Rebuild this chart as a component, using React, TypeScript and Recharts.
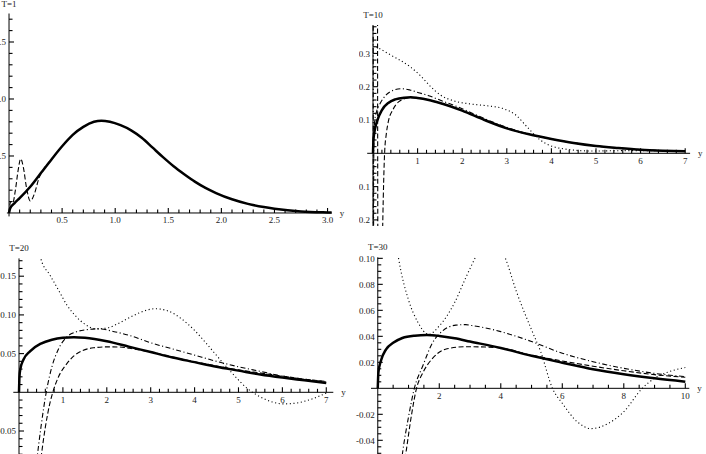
import { LineChart, Line, XAxis, YAxis, ReferenceLine, ReferenceDot } from "recharts"

// ---- T=1 ----
const t1SolidX = [0, 0.01, 0.05, 0.1, 0.2, 0.3, 0.4, 0.5, 0.6, 0.7, 0.8, 0.87, 0.95, 1.05, 1.15, 1.25, 1.35, 1.45, 1.55, 1.65, 1.75, 1.85, 1.95, 2.1, 2.25, 2.4, 2.5, 2.75, 3.0, 3.04]
const t1Solid = [0, 0.04, 0.085, 0.13, 0.23, 0.35, 0.47, 0.585, 0.685, 0.755, 0.8, 0.81, 0.8, 0.77, 0.725, 0.66, 0.575, 0.49, 0.41, 0.34, 0.275, 0.22, 0.175, 0.12, 0.08, 0.052, 0.038, 0.014, 0.005, 0.004]
const t1DashedX = [0, 0.015, 0.035, 0.06, 0.085, 0.11, 0.135, 0.165, 0.2, 0.24, 0.28, 0.32, 0.4]
const t1Dashed = [0, 0.1, 0.09, 0.2, 0.37, 0.475, 0.4, 0.22, 0.105, 0.17, 0.3, 0.375, 0.47]

// ---- T=10 ----
const t10SolidX = [0, 0.01, 0.04, 0.1, 0.2, 0.35, 0.5, 0.7, 0.85, 1.0, 1.25, 1.5, 2.0, 2.5, 3.0, 3.5, 4.0, 4.5, 5.0, 5.5, 6.0, 6.5, 7.0]
const t10Solid = [0, 0.04, 0.07, 0.1, 0.13, 0.152, 0.162, 0.167, 0.168, 0.166, 0.16, 0.151, 0.128, 0.1, 0.075, 0.057, 0.043, 0.031, 0.022, 0.016, 0.011, 0.008, 0.006]
const t10DashDotX = [0.004, 0.01, 0.02, 0.04, 0.08, 0.15, 0.3, 0.45, 0.64, 0.83, 1.05, 1.25, 1.5, 2.0, 2.5, 3.0, 3.5, 4.0, 5.0, 6.0, 7.0]
const t10DashDot = [0.45, -0.3, 0.05, 0.1, 0.125, 0.147, 0.176, 0.189, 0.194, 0.19, 0.181, 0.173, 0.16, 0.134, 0.104, 0.078, 0.058, 0.043, 0.022, 0.011, 0.006]
const t10DashedX = [0.1, 0.115, 0.2, 0.22, 0.26, 0.3, 0.34, 0.45, 0.6, 0.83, 1.0, 1.5, 2.0, 2.5, 3.0, 4.0, 5.0, 6.0, 7.0]
const t10Dashed = [0.6, -0.6, -0.35, -0.2, 0, 0.06, 0.093, 0.132, 0.157, 0.167, 0.166, 0.151, 0.128, 0.1, 0.075, 0.043, 0.022, 0.011, 0.006]
const t10DottedX = [0.07, 0.4, 0.83, 1.05, 1.28, 1.5, 1.8, 2.2, 2.6, 2.9, 3.2, 3.45, 3.75, 4.2, 4.9, 5.7, 7.0]
const t10Dotted = [0.32, 0.295, 0.26, 0.235, 0.202, 0.176, 0.158, 0.148, 0.142, 0.135, 0.115, 0.08, 0.04, 0.015, 0.007, 0.008, 0.007]

// ---- T=20 ----
const t20SolidX = [0, 0.01, 0.03, 0.1, 0.25, 0.5, 0.75, 1.0, 1.25, 1.5, 2.0, 2.5, 3.0, 3.5, 4.0, 4.5, 5.0, 5.5, 6.0, 6.5, 7.0]
const t20Solid = [0, 0.02, 0.03, 0.042, 0.053, 0.063, 0.068, 0.0705, 0.0712, 0.0705, 0.066, 0.059, 0.052, 0.045, 0.039, 0.033, 0.028, 0.023, 0.019, 0.0155, 0.012]
const t20DashDotX = [0.4, 0.5, 0.62, 0.75, 0.9, 1.08, 1.3, 1.55, 1.8, 2.2, 2.6, 3.0, 3.5, 4.0, 4.5, 5.0, 5.5, 6.0, 6.5, 7.0]
const t20DashDot = [-0.09, -0.045, 0, 0.033, 0.056, 0.071, 0.078, 0.081, 0.082, 0.078, 0.072, 0.064, 0.056, 0.048, 0.04, 0.033, 0.027, 0.021, 0.017, 0.0135]
const t20DashedX = [0.5, 0.6, 0.7, 0.77, 0.9, 1.09, 1.25, 1.45, 1.7, 2.0, 2.3, 2.6, 3.0, 3.5, 4.0, 4.5, 5.0, 5.5, 6.0, 6.5, 7.0]
const t20Dashed = [-0.085, -0.045, -0.015, 0, 0.02, 0.037, 0.047, 0.054, 0.0575, 0.0587, 0.0585, 0.056, 0.052, 0.0455, 0.0395, 0.034, 0.029, 0.025, 0.021, 0.017, 0.014]
const t20DottedX = [0.4, 0.5, 0.7, 0.9, 1.1, 1.3, 1.5, 1.75, 2.0, 2.3, 2.6, 2.9, 3.1, 3.4, 3.7, 4.0, 4.3, 4.6, 4.9, 5.2, 5.5, 5.8, 6.0, 6.3, 6.6, 7.0]
const t20Dotted = [0.2, 0.172, 0.152, 0.132, 0.112, 0.098, 0.088, 0.082, 0.083, 0.09, 0.099, 0.106, 0.108, 0.105, 0.095, 0.08, 0.061, 0.041, 0.022, 0.005, -0.006, -0.013, -0.015, -0.014, -0.01, -0.001]

// ---- T=30 ----
const t30SolidX = [0, 0.02, 0.1, 0.27, 0.5, 0.8, 1.2, 1.6, 2.0, 2.5, 3.0, 4.0, 5.0, 6.0, 7.0, 8.0, 9.0, 10.0]
const t30Solid = [0, 0.012, 0.021, 0.03, 0.035, 0.0387, 0.0405, 0.041, 0.0403, 0.0385, 0.036, 0.031, 0.025, 0.0197, 0.0146, 0.0108, 0.0077, 0.0051]
const t30DashDotX = [0.75, 0.81, 1.0, 1.19, 1.46, 1.78, 2.1, 2.54, 2.86, 3.0, 3.5, 4.0, 5.0, 6.0, 7.0, 8.0, 9.0, 10.0]
const t30DashDot = [-0.06, -0.049, -0.022, 0, 0.017, 0.035, 0.044, 0.0486, 0.049, 0.0485, 0.0465, 0.0436, 0.036, 0.027, 0.0205, 0.0154, 0.0115, 0.009]
const t30DashedX = [0.85, 0.92, 1.1, 1.26, 1.46, 1.78, 2.2, 2.86, 3.5, 4.0, 5.0, 6.0, 7.0, 8.0, 9.0, 10.0]
const t30Dashed = [-0.06, -0.049, -0.02, 0, 0.0117, 0.023, 0.03, 0.032, 0.0318, 0.031, 0.0255, 0.021, 0.017, 0.0135, 0.0105, 0.0085]
const t30DottedX = [0.55, 0.68, 1.0, 1.3, 1.65, 2.0, 2.5, 2.86, 3.16, 3.6, 4.15, 4.5, 5.0, 5.3, 5.68, 6.0, 6.5, 6.93, 7.5, 8.0, 8.6, 9.0, 9.5, 10.0]
const t30Dotted = [0.12, 0.0995, 0.068, 0.051, 0.0415, 0.048, 0.066, 0.085, 0.1, 0.12, 0.1, 0.075, 0.045, 0.028, 0, -0.0115, -0.026, -0.031, -0.027, -0.018, 0, 0.0077, 0.013, 0.016]

// ---- ticks ----
const t1XTicks = [0.5, 1.0, 1.5, 2.0, 2.5, 3.0]
const t1XLabels = ["0.5", "1.0", "1.5", "2.0", "2.5", "3.0"]
const t1YTicks = [0.5, 1.0, 1.5]
const t1YLabels = ["0.5", "1.0", "1.5"]

const t10XTicks = [1, 2, 3, 4, 5, 6, 7]
const t10XLabels = ["1", "2", "3", "4", "5", "6", "7"]
const t10YTicks = [-0.2, -0.1, 0.1, 0.2, 0.3]
const t10YLabels = ["-0.2", "-0.1", "0.1", "0.2", "0.3"]

const t20XTicks = [1, 2, 3, 4, 5, 6, 7]
const t20XLabels = ["1", "2", "3", "4", "5", "6", "7"]
const t20YTicks = [-0.05, 0.05, 0.1, 0.15]
const t20YLabels = ["-0.05", "0.05", "0.10", "0.15"]

const t30XTicks = [2, 4, 6, 8, 10]
const t30XLabels = ["2", "4", "6", "8", "10"]
const t30YTicks = [-0.04, -0.02, 0.02, 0.04, 0.06, 0.08, 0.1]
const t30YLabels = ["-0.04", "-0.02", "0.02", "0.04", "0.06", "0.08", "0.10"]

type Kind = "solid" | "dashed" | "dotted" | "dashdot"

const pts = (xs: number[], vs: number[]) => xs.map((x, i) => ({ x, v: vs[i] }))

// minor tick positions between a and b
const steps = (a: number, b: number, s: number) => {
  const out: number[] = []
  for (let i = 0; a + i * s <= b + 1e-9; i++) out.push(Math.round((a + i * s) * 10000) / 10000)
  return out
}

const styles: Record<Kind, { strokeWidth: number; strokeDasharray?: string }> = {
  solid: { strokeWidth: 2.5 },
  dashed: { strokeWidth: 1.1, strokeDasharray: "5 2.5" },
  dotted: { strokeWidth: 1.1, strokeDasharray: "1.1 2.6" },
  dashdot: { strokeWidth: 1.1, strokeDasharray: "5 2.5 1.1 2.5" },
}

const fontFamily = "'Liberation Serif', 'Times New Roman', 'DejaVu Serif', serif"
const font = { fontFamily, fontSize: 9, fill: "#222" }

interface PanelSpec {
  box: [number, number, number, number]
  size: [number, number]
  margin: { top: number; right: number; bottom: number; left: number }
  xDomain: [number, number]
  yDomain: [number, number]
  xTicks: number[]
  xLabels: string[]
  xMinor: number[]
  yTicks: number[]
  yLabels: string[]
  yMinor: number[]
  title: string
  series: { data: { x: number; v: number }[]; kind: Kind }[]
}

const near = (list: number[], t: number) => list.some((m) => Math.abs(m - t) < 1e-6)

function Panel({ p }: { p: PanelSpec }) {
  const xMinor = p.xMinor.filter((t) => t !== 0 && !near(p.xTicks, t))
  const yMinor = p.yMinor.filter((t) => Math.abs(t) > 1e-9 && !near(p.yTicks, t))
  // tick lengths in data units (5px major, 3.5px minor)
  const pxX = (p.size[0] - p.margin.left - p.margin.right) / (p.xDomain[1] - p.xDomain[0])
  const pxY = (p.size[1] - p.margin.top - p.margin.bottom) / (p.yDomain[1] - p.yDomain[0])
  const tick = (t: number, len: number, horiz: boolean, key: string) => (
    <ReferenceLine
      key={key}
      segment={horiz ? [{ x: 0, y: t }, { x: len / pxX, y: t }] : [{ x: t, y: 0 }, { x: t, y: len / pxY }]}
      stroke="#000"
      strokeWidth={1.1}
      ifOverflow="visible"
    />
  )
  return (
    <div style={{ position: "absolute", left: p.box[0], top: p.box[1], width: p.box[2], height: p.box[3], overflow: "hidden" }}>
      <LineChart width={p.size[0]} height={p.size[1]} margin={p.margin}>
        <XAxis type="number" dataKey="x" domain={p.xDomain} allowDataOverflow hide />
        <YAxis type="number" dataKey="v" domain={p.yDomain} allowDataOverflow hide />
        <ReferenceLine y={0} stroke="#000" strokeWidth={1} />
        <ReferenceLine x={0} stroke="#000" strokeWidth={1} />
        {xMinor.map((t) => tick(t, 3.5, false, "xm" + t))}
        {p.xTicks.map((t) => tick(t, 5, false, "xt" + t))}
        {yMinor.map((t) => tick(t, 3.5, true, "ym" + t))}
        {p.yTicks.map((t) => tick(t, 5, true, "yt" + t))}
        {p.series.map((s, i) => (
          <Line
            key={i}
            data={s.data}
            dataKey="v"
            type="monotone"
            stroke="#000"
            {...styles[s.kind]}
            dot={false}
            activeDot={false}
            isAnimationActive={false}
          />
        ))}
        {p.xTicks.map((t, i) => (
          <ReferenceDot key={"xl" + t} x={t} y={0} shape={(d: any) => (
            <text x={d.cx} y={d.cy + 10.5} textAnchor="middle" fontFamily={fontFamily} style={font}>{p.xLabels[i]}</text>
          )} />
        ))}
        {p.yTicks.map((t, i) => (
          <ReferenceDot key={"yl" + t} x={0} y={t} shape={(d: any) => (
            <text x={d.cx - 3} y={d.cy + 3.2} textAnchor="end" fontFamily={fontFamily} style={font}>{p.yLabels[i]}</text>
          )} />
        ))}
        <ReferenceDot x={0} y={p.yDomain[1]} shape={(d: any) => (
          <text x={d.cx} y={d.cy - 7} textAnchor="middle" fontFamily={fontFamily} style={font}>{p.title}</text>
        )} />
        <ReferenceDot x={p.xDomain[1]} y={0} shape={(d: any) => (
          <text x={d.cx + 8} y={d.cy + 3} textAnchor="start" fontFamily={fontFamily} style={font}>y</text>
        )} />
      </LineChart>
    </div>
  )
}

const panels: PanelSpec[] = [
  {
    box: [0, 0, 356, 236],
    size: [356, 236],
    margin: { top: 13.5, right: 24.2, bottom: 19.6, left: 6.9 },
    xDomain: [-0.02, 3.04],
    yDomain: [-0.03, 1.75],
    xTicks: t1XTicks, xLabels: t1XLabels, xMinor: steps(0, 3, 0.1),
    yTicks: t1YTicks, yLabels: t1YLabels, yMinor: steps(0, 1.7, 0.1),
    title: "T=1",
    series: [
      { data: pts(t1DashedX, t1Dashed), kind: "dashed" },
      { data: pts(t1SolidX, t1Solid), kind: "solid" },
    ],
  },
  {
    box: [359, 0, 347, 236],
    size: [347, 236],
    margin: { top: 25.1, right: 15.9, bottom: 10.1, left: 8.2 },
    xDomain: [-0.13, 7.11],
    yDomain: [-0.218, 0.385],
    xTicks: t10XTicks, xLabels: t10XLabels, xMinor: steps(0, 7, 0.2),
    yTicks: t10YTicks, yLabels: t10YLabels, yMinor: steps(-0.2, 0.38, 0.02),
    title: "T=10",
    series: [
      { data: pts(t10DottedX, t10Dotted), kind: "dotted" },
      { data: pts(t10DashDotX, t10DashDot), kind: "dashdot" },
      { data: pts(t10DashedX, t10Dashed), kind: "dashed" },
      { data: pts(t10SolidX, t10Solid), kind: "solid" },
    ],
  },
  {
    box: [0, 236, 356, 218],
    size: [356, 230],
    margin: { top: 22.4, right: 22.7, bottom: 7.9, left: 13.3 },
    xDomain: [-0.13, 7.16],
    yDomain: [-0.085, 0.173],
    xTicks: t20XTicks, xLabels: t20XLabels, xMinor: steps(0, 7, 0.2),
    yTicks: t20YTicks, yLabels: t20YLabels, yMinor: steps(-0.08, 0.17, 0.01),
    title: "T=20",
    series: [
      { data: pts(t20DottedX, t20Dotted), kind: "dotted" },
      { data: pts(t20DashDotX, t20DashDot), kind: "dashdot" },
      { data: pts(t20DashedX, t20Dashed), kind: "dashed" },
      { data: pts(t20SolidX, t20Solid), kind: "solid" },
    ],
  },
  {
    box: [354, 236, 352, 218],
    size: [352, 230],
    margin: { top: 21.3, right: 16.7, bottom: 8.8, left: 17.0 },
    xDomain: [-0.22, 10.13],
    yDomain: [-0.053, 0.1008],
    xTicks: t30XTicks, xLabels: t30XLabels, xMinor: steps(0, 10, 0.5),
    yTicks: t30YTicks, yLabels: t30YLabels, yMinor: steps(-0.05, 0.1, 0.005),
    title: "T=30",
    series: [
      { data: pts(t30DottedX, t30Dotted), kind: "dotted" },
      { data: pts(t30DashDotX, t30DashDot), kind: "dashdot" },
      { data: pts(t30DashedX, t30Dashed), kind: "dashed" },
      { data: pts(t30SolidX, t30Solid), kind: "solid" },
    ],
  },
]

export default function App() {
  return (
    <div style={{ position: "absolute", left: 0, top: 0, width: 706, height: 454, overflow: "hidden", background: "#fff" }}>
      {panels.map((p) => (
        <Panel key={p.title} p={p} />
      ))}
    </div>
  )
}
